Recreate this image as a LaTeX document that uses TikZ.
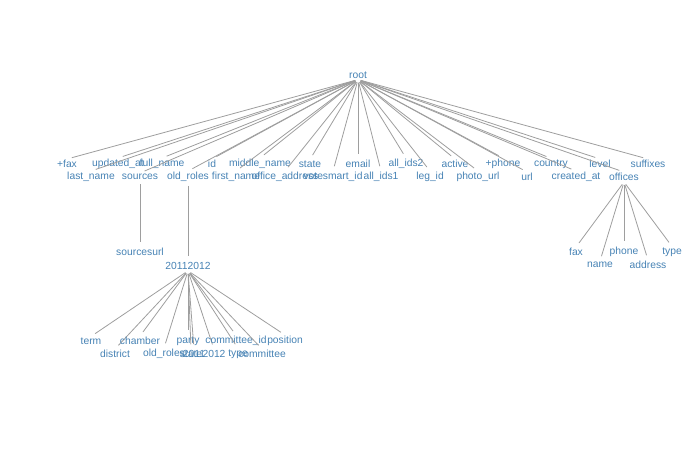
\documentclass[tikz,border=0pt]{standalone}
\usepackage{fontspec}
\setmainfont{Liberation Sans}
\definecolor{lblue}{HTML}{4682B4}
\begin{document}
\begin{tikzpicture}[x=1pt,y=-1pt,
  lab/.style={text=lblue, font=\fontsize{10.3}{11}\selectfont, inner sep=1pt},
  edge/.style={draw=black!38, line width=0.8pt, shorten <=3pt, shorten >=5pt}]
\useasboundingbox (0,0) rectangle (700,450);
\node[lab] (root) at (358,75) {root};
% level 1
\foreach \n/\t/\x/\y in {a/+fax/67/164, b/updated\_at/118/164, c/full\_name/162/164, d/id/212/164, e/middle\_name/260/164, f/state/310/164, g/email/358/164, h/all\_ids2/406/164, i/active/455/164, j/+phone/503/164, k/country/551/164, l/level/600/164, m/suffixes/648/164,
 n/last\_name/91/177, o/sources/140/177, p/old\_roles/188/177, q/first\_name/236/177, r/office\_address/285/177, s/votesmart\_id/333/177, t/all\_ids1/381/177, u/leg\_id/430/177, v/photo\_url/478/177, w/url/527/177, x/created\_at/576/177, y/offices/624/177}
{ \node[lab] (\n) at (\x,\y) {\t};
  \draw[edge] (root.south) -- (\n.north); }
\node[lab] (su) at (140,252) {sourcesurl};
\draw[edge] (o.south) -- (su.north);
\node[lab] (yr) at (188,266) {20112012};
\draw[edge] (p.south) -- (yr.north);
\foreach \n/\t/\x/\y in {of/fax/576/252, on/name/600/265, op/phone/624/252, oa/address/648/265, ot/type/672/252}
{ \node[lab] (\n) at (\x,\y) {\t};
  \draw[edge] (y.south) -- (\n.north); }
\foreach \n/\t/\x/\y in {r1/term/91/341, r2/district/115/354, r3/chamber/140/341, r4/old\_roles/164/354, r5/party/188/341, r6/state/191/354, r7/2011/194/354, r8/2012/214/354, r9/committee\_id/236/341, r10/type/238/354, r11/committee/262/354, r12/position/285/341}
{ \node[lab] (\n) at (\x,\y) {\t};
  \draw[edge] (yr.south) -- (\n.north); }
\end{tikzpicture}
\end{document}
